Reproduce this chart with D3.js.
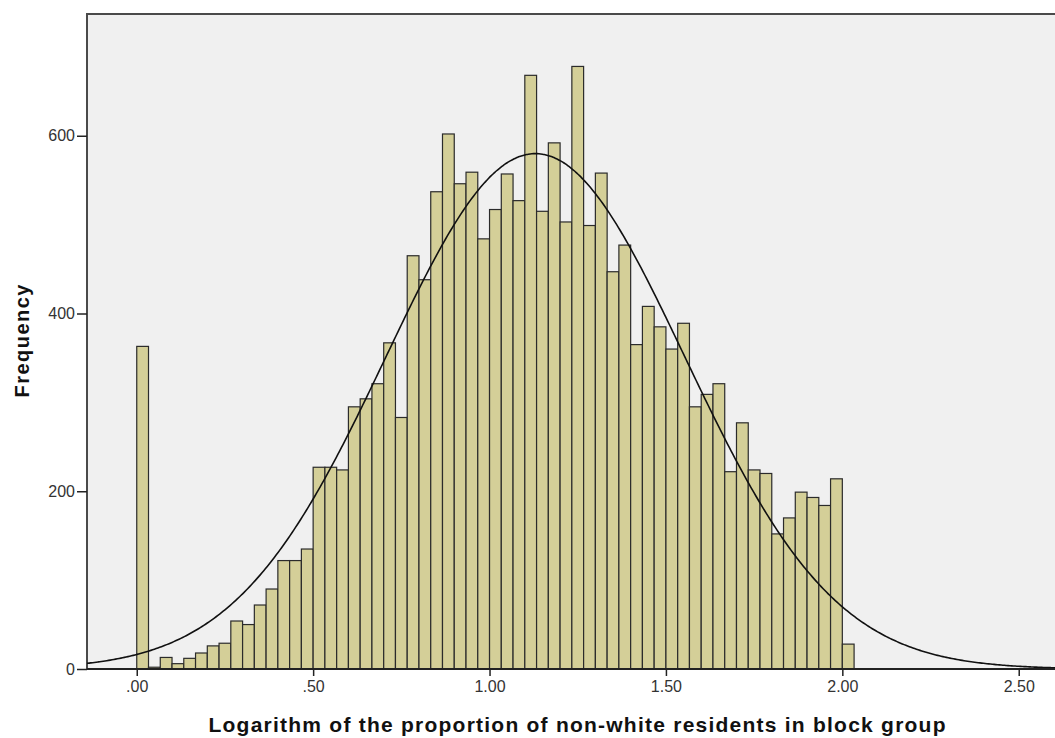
<!DOCTYPE html>
<html>
<head>
<meta charset="utf-8">
<script src="https://cdn.jsdelivr.net/npm/d3@7"></script>
<style>
	html,body{margin:0;padding:0;background:#fff;}
	svg{display:block;}
</style>
</head>
<body>
<div id="chart"></div>
<script>
// histogram counts, one per bin of width 1/30 starting at 0
var counts = [
	363, 2, 13, 6, 12, 18, 26, 29, 54, 50,
	72, 90, 122, 122, 135, 227, 227, 224, 295, 304,
	321, 367, 283, 465, 438, 537, 602, 546, 559, 484,
	517, 557, 527, 668, 515, 592, 503, 678, 499, 558,
	447, 477, 365, 408, 385, 360, 389, 295, 309, 321,
	222, 277, 224, 220, 152, 170, 199, 193, 184, 214,
	28
];
var binStart = 0;
var binWidth = 1 / 30;
var xTicks = [0, 0.5, 1, 1.5, 2, 2.5];
var xTickLabels = [".00", ".50", "1.00", "1.50", "2.00", "2.50"];
var yTicks = [0, 200, 400, 600];
var fitMean = 1.13;
var fitSd = 0.423;

var W = 1055, H = 738;
var plot = {left: 87, top: 14, bottom: 669, right: 1054};

var svg = d3.select("#chart").append("svg")
	.attr("width", W).attr("height", H);

var x = d3.scaleLinear().domain([-0.141, 2.6]).range([plot.left, plot.right]);
var y = d3.scaleLinear().domain([0, 737]).range([plot.bottom, plot.top]);

// plot background and frame (right edge runs off the picture)
svg.append("rect")
	.attr("x", plot.left).attr("y", plot.top)
	.attr("width", W + 20 - plot.left).attr("height", plot.bottom - plot.top)
	.style("fill", "#f0f0f0")
	.style("stroke", "#4a4a4a")
	.style("stroke-width", 2);

svg.append("clipPath").attr("id", "clip")
	.append("rect")
	.attr("x", plot.left).attr("y", plot.top)
	.attr("width", W - plot.left).attr("height", plot.bottom - plot.top);

var g = svg.append("g").attr("clip-path", "url(#clip)");

g.selectAll("rect.bar")
	.data(counts)
	.enter().append("rect")
	.attr("class", "bar")
	.attr("x", function(d, i){ return x(binStart + i * binWidth); })
	.attr("width", function(d, i){ return x(binStart + (i + 1) * binWidth) - x(binStart + i * binWidth); })
	.attr("y", function(d){ return y(d); })
	.attr("height", function(d){ return y(0) - y(d); })
	.style("fill", "#d4cf98")
	.style("stroke", "#2b2b2b")
	.style("stroke-width", 1.2);

// normal curve scaled to the counts
var total = d3.sum(counts);
var curvePts = d3.range(-0.15, 2.62, 0.005);
var line = d3.line()
	.x(function(v){ return x(v); })
	.y(function(v){
		var z = (v - fitMean) / fitSd;
		return y(total * binWidth * Math.exp(-z * z / 2) / (fitSd * Math.sqrt(2 * Math.PI)));
	})
	.curve(d3.curveBasis);
g.append("path")
	.datum(curvePts)
	.attr("d", line)
	.style("fill", "none")
	.style("stroke", "#111")
	.style("stroke-width", 1.6);

// axes
var xAxis = d3.axisBottom(x)
	.tickValues(xTicks)
	.tickFormat(function(d, i){ return xTickLabels[i]; })
	.tickSize(7).tickPadding(5);
var xg = svg.append("g")
	.attr("transform", "translate(0," + plot.bottom + ")")
	.call(xAxis);
xg.select(".domain").attr("d", "M" + plot.left + ",0H" + (W + 5));

var yAxis = d3.axisLeft(y)
	.tickValues(yTicks)
	.tickSize(10).tickPadding(2);
var yg = svg.append("g")
	.attr("transform", "translate(" + plot.left + ",0)")
	.call(yAxis);
yg.select(".domain").remove();

svg.selectAll(".tick line").style("stroke", "#222").style("stroke-width", 1.5);
xg.select(".domain").style("stroke", "#222").style("stroke-width", 2);
svg.selectAll(".tick text")
	.style("font-family", "'Liberation Sans', Arial, sans-serif")
	.style("font-size", "16px")
	.style("fill", "#333");

// titles
svg.append("text")
	.attr("x", 577).attr("y", 732)
	.attr("text-anchor", "middle")
	.attr("textLength", 737)
	.attr("lengthAdjust", "spacing")
	.text("Logarithm of the proportion of non-white residents in block group")
	.style("font-family", "'Liberation Sans', Arial, sans-serif")
	.style("font-weight", "bold")
	.style("font-size", "21px")
	.style("fill", "#111");

svg.append("text")
	.attr("transform", "translate(29,341) rotate(-90)")
	.attr("text-anchor", "middle")
	.attr("textLength", 113)
	.attr("lengthAdjust", "spacing")
	.text("Frequency")
	.style("font-family", "'Liberation Sans', Arial, sans-serif")
	.style("font-weight", "bold")
	.style("font-size", "20px")
	.style("fill", "#111");
</script>
</body>
</html>
